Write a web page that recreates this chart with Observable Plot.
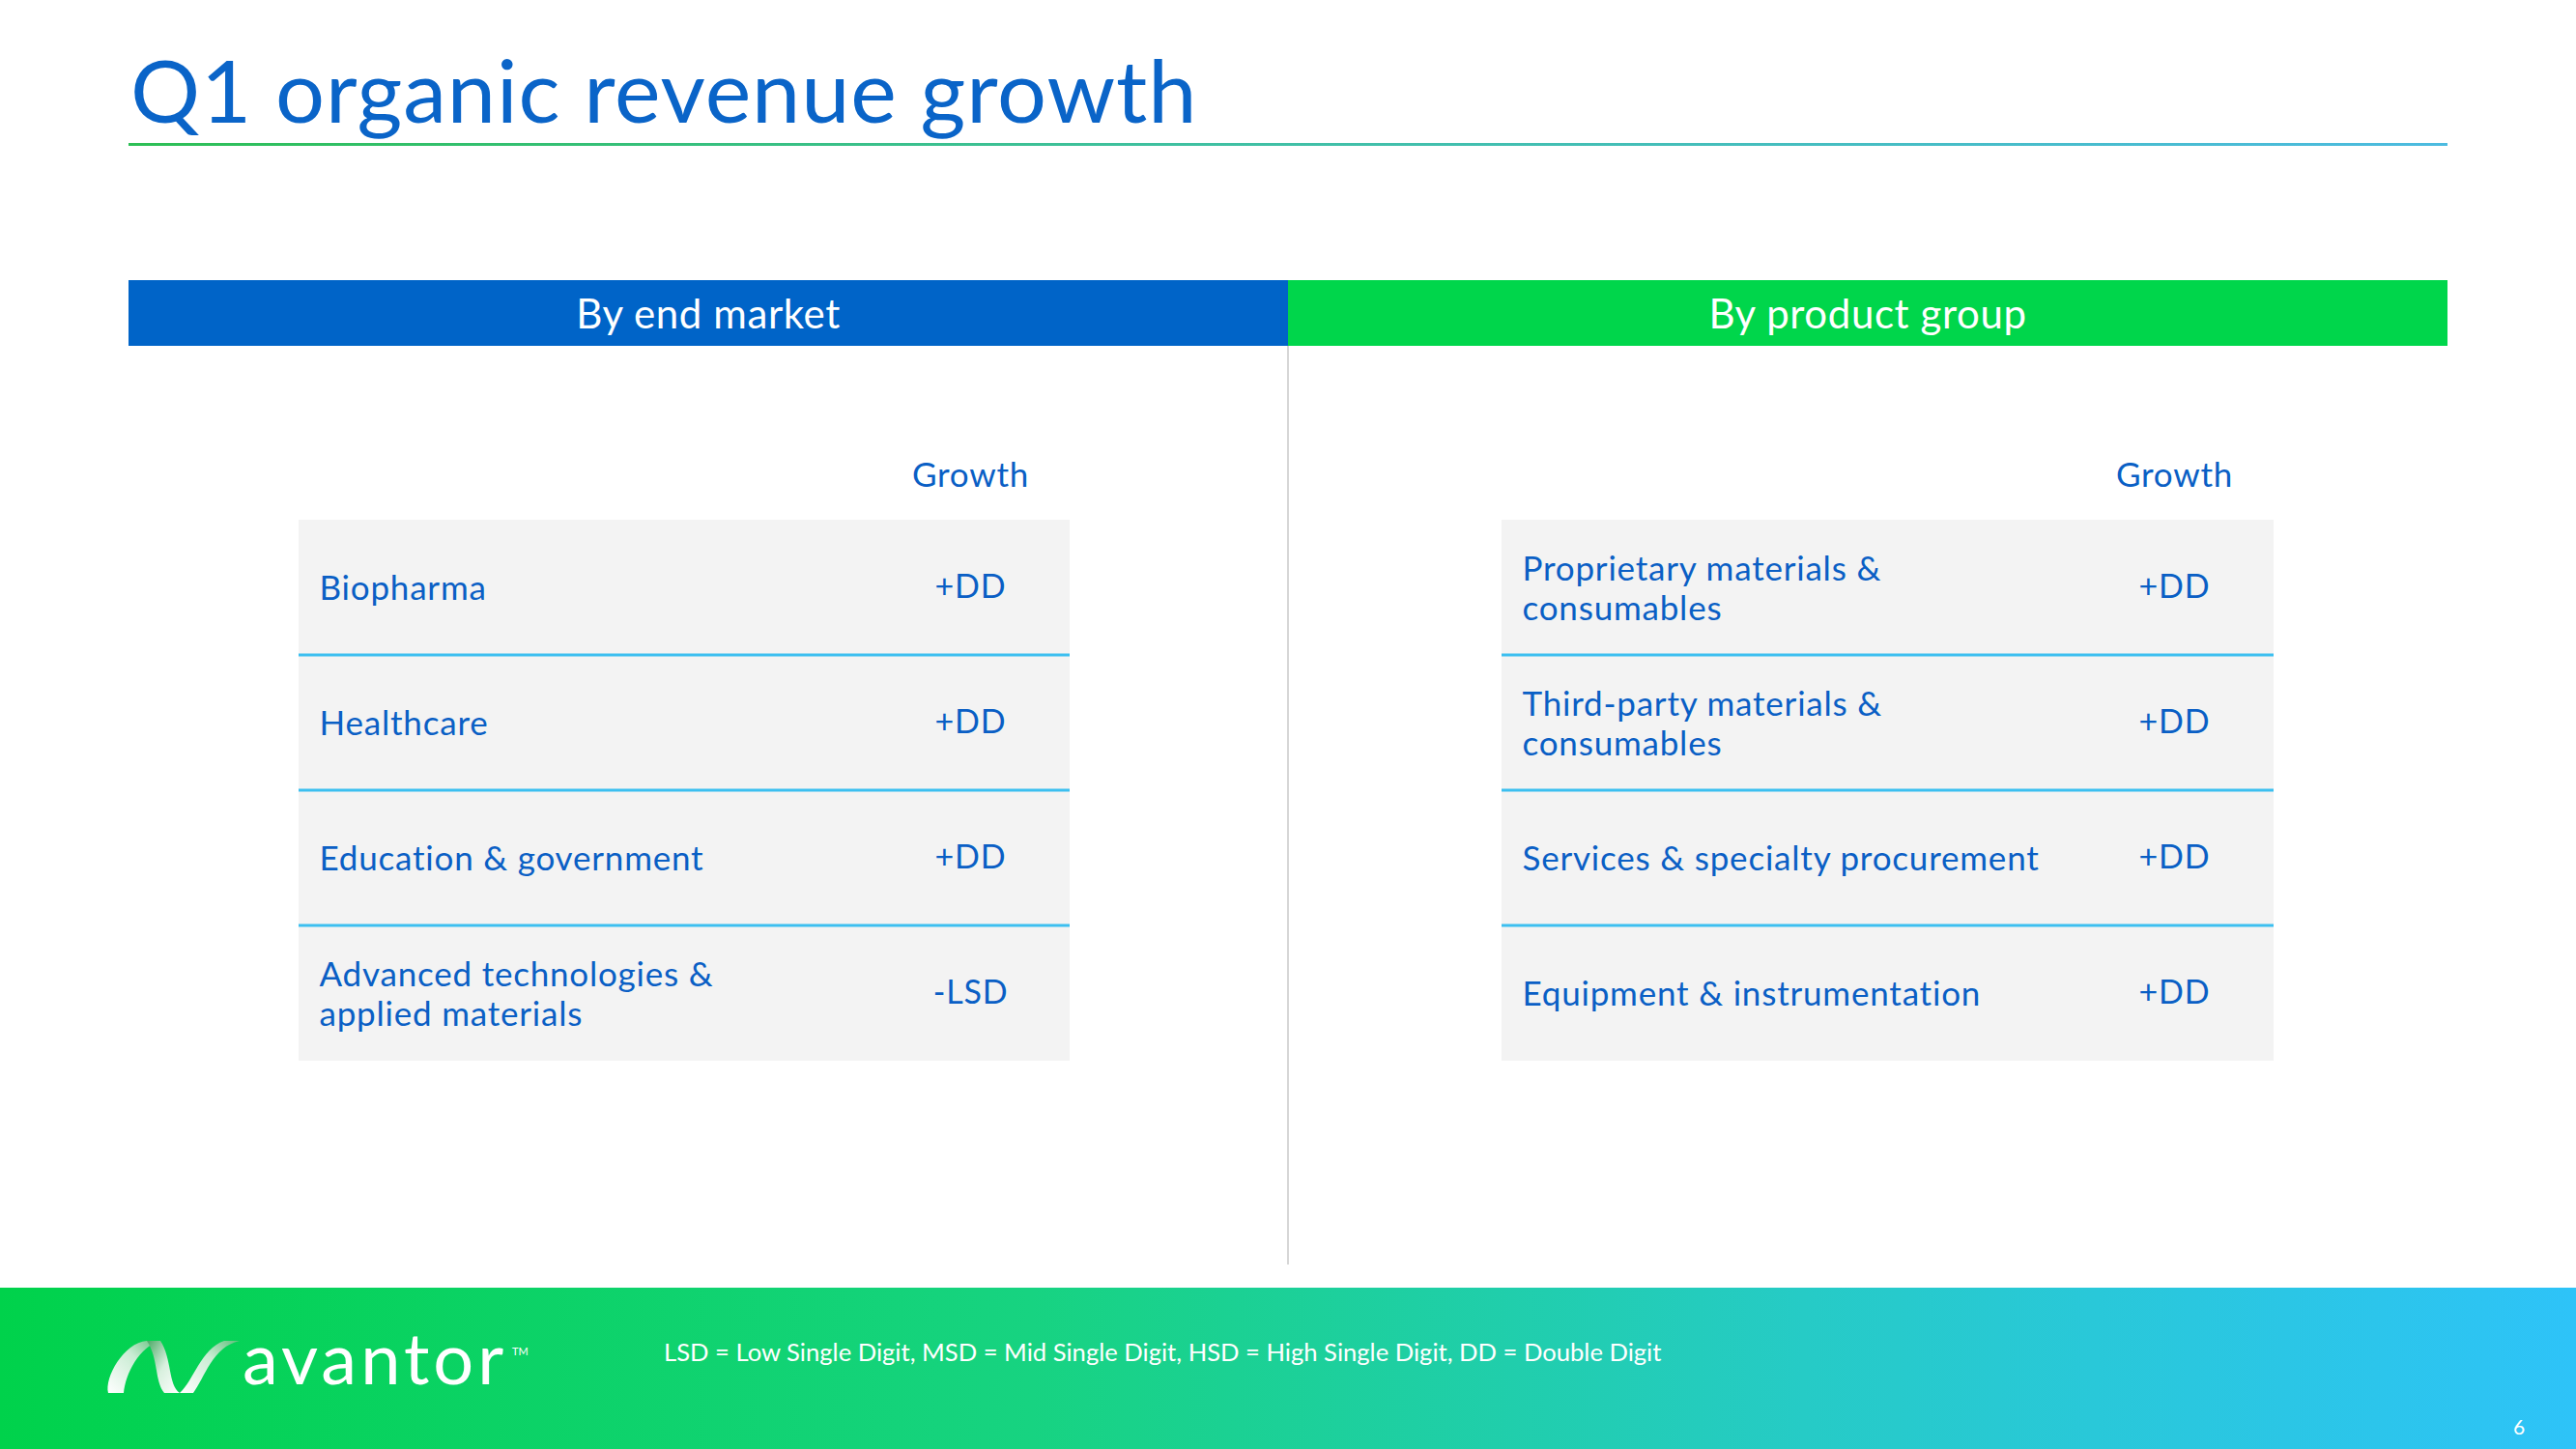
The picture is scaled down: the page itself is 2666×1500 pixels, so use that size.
<!DOCTYPE html>
<html>
<head>
<meta charset="utf-8">
<script src="https://cdn.jsdelivr.net/npm/d3@7"></script>
<script src="https://cdn.jsdelivr.net/npm/@observablehq/plot@0.6"></script>
<style>
  html, body { margin: 0; padding: 0; background: #ffffff; }
  #page { position: relative; width: 2666px; height: 1500px; overflow: hidden; font-family: Lato, "Noto Sans", sans-serif; background: #fff; }
  #title { position: absolute; left: 135px; top: 47px; font-size: 90px; line-height: 1; color: #0a64c8; white-space: nowrap; letter-spacing: 0.9px; }
  #titleRule { position: absolute; left: 133px; top: 148px; width: 2400px; height: 3px; background: linear-gradient(90deg, #2dbf55 0%, #3fc0a0 45%, #4cbbe0 100%); }
  .head { position: absolute; top: 290px; height: 68px; width: 1200px; line-height: 68px; text-align: center; color: #fff; font-size: 42px; letter-spacing: 0.6px; }
  #headL { left: 133px; background: #0064c8; }
  #headR { left: 1333px; background: #00d64b; }
  #divider { position: absolute; left: 1332px; top: 358px; width: 2px; height: 951px; background: #d6d6d6; }
  #panelL { position: absolute; left: 133px; top: 358px; }
  #panelR { position: absolute; left: 1333px; top: 358px; }
  #footer { position: absolute; left: 0; top: 1333px; width: 2666px; height: 167px; background: linear-gradient(90deg, #00d24b 0%, #17d381 40%, #26cbc6 70%, #2ec3f8 100%); }
  #note { position: absolute; left: 687px; top: 1384px; font-size: 25.6px; line-height: 30px; color: #fff; white-space: nowrap; }
  #pageNum { position: absolute; left: 2597px; top: 1464px; width: 20px; text-align: center; font-size: 21px; line-height: 26px; color: #fff; }
  #logoText { position: absolute; left: 251px; top: 1360px; font-size: 74px; line-height: 90px; color: #fff; letter-spacing: 4px; white-space: nowrap; }
  #logoTM { position: absolute; left: 530px; top: 1392px; font-size: 11px; color: #fff; }
  #logoIcon { position: absolute; left: 108px; top: 1386px; }
</style>
</head>
<body>
<div id="page">
  <div id="title"></div>
  <div id="titleRule"></div>
  <div id="headL" class="head"></div>
  <div id="headR" class="head"></div>
  <div id="divider"></div>
  <div id="panelL"></div>
  <div id="panelR"></div>
  <div id="footer"></div>
  <svg id="logoIcon" width="142" height="60" viewBox="0 0 142 60">
    <defs>
      <linearGradient id="sw1" x1="0" y1="1" x2="1" y2="0">
        <stop offset="0" stop-color="#ffffff"/>
        <stop offset="0.6" stop-color="#c9ecd3"/>
        <stop offset="1" stop-color="#5fbf7a"/>
      </linearGradient>
      <linearGradient id="sw2" x1="0" y1="0" x2="1" y2="1">
        <stop offset="0" stop-color="#4aa865"/>
        <stop offset="0.5" stop-color="#d8f0de"/>
        <stop offset="1" stop-color="#ffffff"/>
      </linearGradient>
    </defs>
    <path d="M4 56 C 0 40, 20 4, 44 2 L 58 2 C 36 8, 22 36, 20 56 Z" fill="url(#sw1)"/>
    <path d="M44 2 L 58 2 C 70 20, 66 48, 78 56 L 62 56 C 52 44, 56 20, 44 2 Z" fill="url(#sw2)"/>
    <path d="M78 56 L 92 56 C 104 40, 112 8, 140 2 L 124 2 C 100 10, 92 44, 78 56 Z" fill="url(#sw1)"/>
  </svg>
  <div id="logoText">avantor</div>
  <div id="logoTM">TM</div>
  <div id="note"></div>
  <div id="pageNum"></div>
</div>
<script>
// ---- data ----
const slideTitle = "Q1 organic revenue growth";
const panelTitles = ["By end market", "By product group"];
const columnHeader = "Growth";
const marketSegments = ["Biopharma", "Healthcare", "Education & government", "Advanced technologies &\napplied materials"];
const marketGrowth = ["+DD", "+DD", "+DD", "-LSD"];
const productSegments = ["Proprietary materials &\nconsumables", "Third-party materials &\nconsumables", "Services & specialty procurement", "Equipment & instrumentation"];
const productGrowth = ["+DD", "+DD", "+DD", "+DD"];
const footnote = "LSD = Low Single Digit, MSD = Mid Single Digit, HSD = High Single Digit, DD = Double Digit";
const pageNumber = "6";

// ---- text blocks ----
document.getElementById("title").textContent = slideTitle;
document.getElementById("headL").textContent = panelTitles[0];
document.getElementById("headR").textContent = panelTitles[1];
document.getElementById("note").textContent = footnote;
document.getElementById("pageNum").textContent = pageNumber;

const textBlue = "#0a5fc5";

function panel(segments, growth, marginLeft, marginRight) {
  const rows = segments.map((segment, i) => ({segment, growth: growth[i], last: i === segments.length - 1}));
  return Plot.plot({
    width: 1200,
    height: 951,
    marginTop: 180,
    marginBottom: 211,
    marginLeft,
    marginRight,
    y: {domain: segments, padding: 0, axis: null},
    style: {fontFamily: "Lato, 'Noto Sans', sans-serif", background: "transparent", overflow: "visible", letterSpacing: "0.8px"},
    marks: [
      Plot.cell(rows, {y: "segment", fill: "#f3f3f3"}),
      Plot.cell(rows.filter(d => !d.last), {y: "segment", fill: "#3cbff0", insetTop: 138.5, insetBottom: -1.5}),
      Plot.text(rows, {y: "segment", text: "segment", frameAnchor: "left", textAnchor: "start", dx: 21, fill: textBlue, fontSize: 35, lineHeight: 1.15}),
      Plot.text(rows, {y: "segment", text: "growth", frameAnchor: "right", textAnchor: "middle", dx: -103, fill: textBlue, fontSize: 34}),
      Plot.text([columnHeader], {text: d => d, frameAnchor: "top-right", textAnchor: "middle", lineAnchor: "middle", dx: -103, dy: -46, fill: textBlue, fontSize: 35})
    ]
  });
}

document.getElementById("panelL").appendChild(panel(marketSegments, marketGrowth, 176, 226));
document.getElementById("panelR").appendChild(panel(productSegments, productGrowth, 221, 180));
</script>
</body>
</html>
